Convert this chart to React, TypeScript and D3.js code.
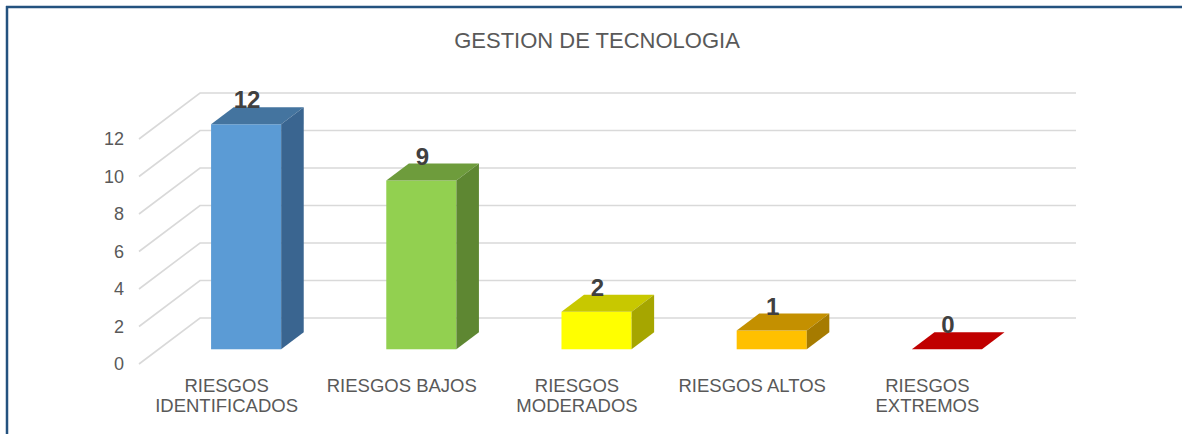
import React from 'react';
import { scaleBand, scaleLinear } from 'd3';

const CATEGORIES = [
  'RIESGOS IDENTIFICADOS',
  'RIESGOS BAJOS',
  'RIESGOS MODERADOS',
  'RIESGOS ALTOS',
  'RIESGOS EXTREMOS',
];

const VALUES = [12, 9, 2, 1, 0];

const FRONT_COLORS = ['#5B9BD5', '#92D050', '#FFFF00', '#FFC000', '#C00000'];
const TOP_COLORS = ['#44749F', '#6E9C3C', '#C8C800', '#C49000', '#C00000'];
const SIDE_COLORS = ['#3A6590', '#5E8732', '#A6A600', '#A67B00', '#A00000'];

const TICKS = [0, 2, 4, 6, 8, 10, 12];

const TITLE = 'GESTION DE TECNOLOGIA';

const FONT = '"Liberation Sans", Arial, sans-serif';

export default function App() {
  const width = 1182;
  const height = 434;

  // 3d floor: front edge at depth 0, back wall at depth 1
  const depthX = 61;
  const depthY = -46;
  const d0 = 0.32;
  const d1 = 0.69;

  const x = scaleBand<string>()
    .domain(CATEGORIES)
    .range([139, 1015])
    .paddingInner(0.6)
    .paddingOuter(0.3);
  const y = scaleLinear().domain([0, 12]).range([364, 139]);

  const grid = TICKS.map(t => {
    const yf = y(t);
    const yb = yf + depthY;
    const [x0, x1] = x.range();
    return (
      <path
        key={'g' + t}
        d={`M${x0},${yf} L${x0 + depthX},${yb} L${x1 + depthX},${yb}`}
        fill="none"
        stroke="#D9D9D9"
        strokeWidth={1.6}
      />
    );
  });

  const tickLabels = TICKS.map(t => (
    <text
      key={'t' + t}
      x={124}
      y={y(t) + 6}
      textAnchor="end"
      style={{ fontSize: '18px', fontFamily: FONT, fill: '#595959' }}
    >
      {t}
    </text>
  ));

  const bars = CATEGORIES.map((c, i) => {
    const v = VALUES[i];
    const fx = (x(c) as number) + depthX * d0;
    const bw = x.bandwidth();
    const yb = y(0) + depthY * d0;
    const yt = y(v) + depthY * d0;
    const ddx = depthX * (d1 - d0);
    const ddy = depthY * (d1 - d0);
    return (
      <g key={c}>
        {v > 0 && <rect x={fx} y={yt} width={bw} height={yb - yt} fill={FRONT_COLORS[i]} />}
        <path
          d={`M${fx},${yt} L${fx + ddx},${yt + ddy} L${fx + bw + ddx},${yt + ddy} L${fx + bw},${yt} Z`}
          fill={TOP_COLORS[i]}
        />
        {v > 0 && (
          <path
            d={`M${fx + bw},${yt} L${fx + bw + ddx},${yt + ddy} L${fx + bw + ddx},${yb + ddy} L${fx + bw},${yb} Z`}
            fill={SIDE_COLORS[i]}
          />
        )}
        <text
          x={fx + bw / 2 + 1}
          y={yt + ddy + 1}
          textAnchor="middle"
          style={{ fontSize: '24px', fontWeight: 'bold', fontFamily: FONT, fill: '#404040' }}
        >
          {v}
        </text>
      </g>
    );
  });

  const catLabels = CATEGORIES.map(c => {
    const lines = c.length > 14 ? c.split(' ') : [c];
    const cx = (x(c) as number) + x.bandwidth() / 2;
    return (
      <text
        key={'c' + c}
        textAnchor="middle"
        style={{ fontSize: '18.5px', fontFamily: FONT, fill: '#595959' }}
      >
        {lines.map((l, j) => (
          <tspan key={j} x={cx} y={392 + j * 20}>
            {l}
          </tspan>
        ))}
      </text>
    );
  });

  return (
    <svg
      width={width}
      height={height}
      style={{ position: 'absolute', left: 0, top: 0, background: '#fff' }}
    >
      <rect x={0} y={0} width={width} height={height} fill="#fff" />
      <line x1={6} y1={7} x2={width} y2={7} stroke="#24527F" strokeWidth={2.5} />
      <line x1={7} y1={6} x2={7} y2={height} stroke="#24527F" strokeWidth={2.5} />
      <text
        x={597}
        y={48}
        textAnchor="middle"
        style={{ fontSize: '22px', fontFamily: FONT, fill: '#595959' }}
      >
        {TITLE}
      </text>
      {grid}
      {tickLabels}
      {bars}
      {catLabels}
    </svg>
  );
}
